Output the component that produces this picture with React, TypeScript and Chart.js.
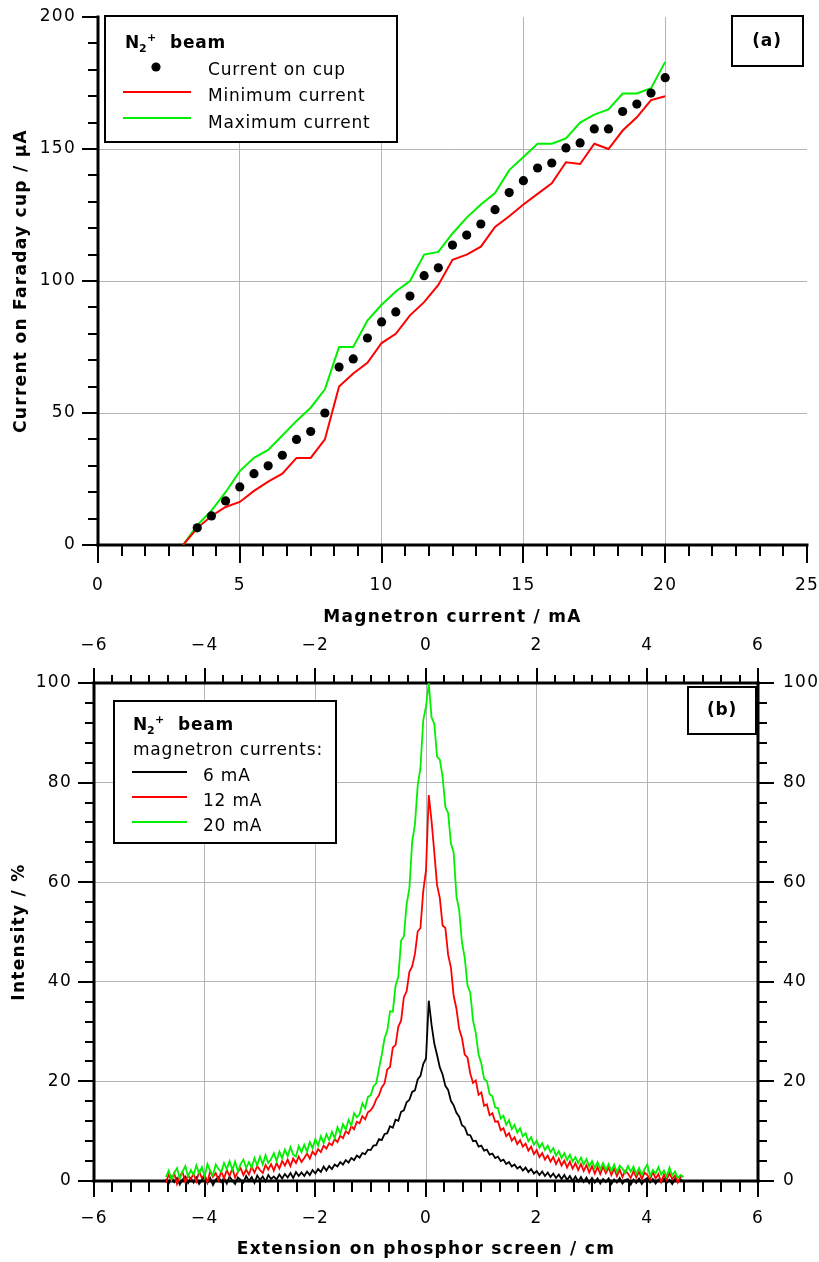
import React, { useEffect, useRef } from 'react';
import { Chart, registerables } from 'chart.js';

Chart.register(...registerables);

const FONT = 'DejaVu Sans';
const GRID = '#b4b4b4';
const RED = '#ff0000';
const GREEN = '#00f000';

// ---------- Panel (a): Faraday cup current vs magnetron current ----------
const CUP_X = [3.5, 4, 4.5, 5, 5.5, 6, 6.5, 7, 7.5, 8, 8.5, 9, 9.5, 10, 10.5, 11, 11.5, 12, 12.5, 13, 13.5, 14, 14.5, 15, 15.5, 16, 16.5, 17, 17.5, 18, 18.5, 19, 19.5, 20];
const CUP_CURRENT = [6.5, 11, 16.7, 22, 27, 30, 34, 40, 43, 50, 67.4, 70.5, 78.4, 84.5, 88.3, 94.3, 102, 105, 113.6, 117.4, 121.6, 127, 133.5, 138, 142.8, 144.7, 150.4, 152.3, 157.6, 157.6, 164.2, 167, 171.2, 177];
const RANGE_X = [3, 3.5, 4, 4.5, 5, 5.5, 6, 6.5, 7, 7.5, 8, 8.5, 9, 9.5, 10, 10.5, 11, 11.5, 12, 12.5, 13, 13.5, 14, 14.5, 15, 15.5, 16, 16.5, 17, 17.5, 18, 18.5, 19, 19.5, 20];
const MIN_CURRENT = [0, 6.4, 11, 14.4, 16.3, 20.5, 24, 27, 33, 33, 40, 60, 65, 69, 76.5, 80, 87, 92, 98.5, 108, 110, 113, 120.5, 124.5, 129, 133, 137, 145, 144.3, 152, 150, 157, 162, 168.5, 170];
const MAX_CURRENT = [0, 7.5, 13, 20, 28, 33, 36, 41.5, 47, 52, 59, 75, 75, 85, 91, 96, 100, 110, 111, 118, 124, 129, 133.3, 142, 147, 152, 152, 154, 160, 163, 165, 171, 171, 173, 183];
const LABELS_A = ['Current on cup', 'Minimum current', 'Maximum current'];

// ---------- Panel (b): beam profiles on phosphor screen ----------
const SCREEN_X = [
  -4.70, -4.65, -4.60, -4.55, -4.50, -4.45, -4.40, -4.35, -4.30, -4.25,
  -4.20, -4.15, -4.10, -4.05, -4.00, -3.95, -3.90, -3.85, -3.80, -3.75,
  -3.70, -3.65, -3.60, -3.55, -3.50, -3.45, -3.40, -3.35, -3.30, -3.25,
  -3.20, -3.15, -3.10, -3.05, -3.00, -2.95, -2.90, -2.85, -2.80, -2.75,
  -2.70, -2.65, -2.60, -2.55, -2.50, -2.45, -2.40, -2.35, -2.30, -2.25,
  -2.20, -2.15, -2.10, -2.05, -2.00, -1.95, -1.90, -1.85, -1.80, -1.75,
  -1.70, -1.65, -1.60, -1.55, -1.50, -1.45, -1.40, -1.35, -1.30, -1.25,
  -1.20, -1.15, -1.10, -1.05, -1.00, -0.95, -0.90, -0.85, -0.80, -0.75,
  -0.70, -0.65, -0.60, -0.55, -0.50, -0.45, -0.40, -0.35, -0.30, -0.25,
  -0.20, -0.15, -0.10, -0.05, 0.00, 0.05, 0.10, 0.15, 0.20, 0.25,
  0.30, 0.35, 0.40, 0.45, 0.50, 0.55, 0.60, 0.65, 0.70, 0.75,
  0.80, 0.85, 0.90, 0.95, 1.00, 1.05, 1.10, 1.15, 1.20, 1.25,
  1.30, 1.35, 1.40, 1.45, 1.50, 1.55, 1.60, 1.65, 1.70, 1.75,
  1.80, 1.85, 1.90, 1.95, 2.00, 2.05, 2.10, 2.15, 2.20, 2.25,
  2.30, 2.35, 2.40, 2.45, 2.50, 2.55, 2.60, 2.65, 2.70, 2.75,
  2.80, 2.85, 2.90, 2.95, 3.00, 3.05, 3.10, 3.15, 3.20, 3.25,
  3.30, 3.35, 3.40, 3.45, 3.50, 3.55, 3.60, 3.65, 3.70, 3.75,
  3.80, 3.85, 3.90, 3.95, 4.00, 4.05, 4.10, 4.15, 4.20, 4.25,
  4.30, 4.35, 4.40, 4.45, 4.50, 4.55, 4.60, 4.65,
];
const INT_6MA = [
  0.4, -0.5, 0.8, -0.2, 0.6, -0.7, 0.3, 0.9, -0.4, 0.5,
  -0.3, 0.7, -0.6, 0.2, 0.9, -0.4, 0.6, -0.8, 0.3, 0.8,
  -0.2, 0.6, -0.5, 0.9, 0.1, -0.6, 0.7, 0.2, -0.3, 1.0,
  0.0, 0.8, -0.4, 1.1, 0.2, 0.9, -0.1, 1.2, 0.4, 0.9,
  0.3, 1.3, 0.5, 1.4, 0.7, 1.6, 0.6, 1.8, 1.0, 1.7,
  1.0, 1.9, 1.2, 2.2, 1.5, 2.4, 1.8, 2.9, 2.1, 3.0,
  2.4, 3.3, 2.9, 3.8, 3.3, 4.2, 3.7, 4.6, 4.2, 5.1,
  4.7, 5.6, 5.4, 6.3, 6.2, 7.1, 7.2, 8.4, 8.2, 9.4,
  9.6, 11.0, 10.7, 12.3, 12.1, 13.9, 14.2, 15.8, 16.3, 17.9,
  18.2, 20.4, 21.1, 23.5, 24.6, 36.2, 31.4, 27.6, 25.3, 22.8,
  21.4, 19.1, 18.3, 16.1, 15.2, 13.7, 12.9, 11.2, 10.8, 9.3,
  9.2, 8.0, 8.1, 6.9, 7.1, 6.1, 6.3, 5.3, 5.5, 4.6,
  4.9, 4.0, 4.3, 3.4, 3.8, 2.9, 3.3, 2.5, 2.9, 2.1,
  2.7, 1.8, 2.4, 1.5, 2.0, 1.2, 1.9, 1.0, 1.7, 0.8,
  1.5, 0.6, 1.3, 0.4, 1.2, 0.2, 1.0, 0.0, 0.9, -0.1,
  0.8, -0.2, 0.7, -0.4, 0.6, -0.3, 0.5, -0.5, 0.4, -0.2,
  0.5, -0.6, 0.3, -0.3, 0.6, -0.5, 0.2, 0.4, -0.7, 0.3,
  -0.4, 0.5, -0.6, 0.2, 0.6, -0.3, 0.4, -0.5, 0.3, -0.2,
  0.5, -0.4, 0.2, -0.6, 0.4, -0.2, 0.3, -0.1,
];
const INT_12MA = [
  -0.4, 1.3, 0.2, 1.6, -0.6, 0.9, 1.8, -0.2, 1.1, 0.4,
  1.5, -0.1, 1.9, 0.6, 1.3, -0.3, 2.0, 0.8, 1.6, 0.2,
  1.9, 0.5, 2.2, 1.0, 2.5, 0.7, 1.8, 2.6, 1.2, 2.3,
  1.3, 2.9, 1.7, 3.0, 2.2, 1.6, 3.2, 2.3, 3.4, 2.1,
  3.6, 2.5, 4.0, 3.1, 4.3, 3.0, 4.5, 3.6, 4.9, 3.8,
  4.6, 5.5, 4.5, 5.9, 5.2, 6.4, 5.8, 7.1, 6.5, 7.6,
  7.2, 8.4, 7.8, 9.1, 8.6, 10.0, 9.5, 11.0, 10.4, 11.9,
  11.6, 13.0, 12.4, 13.8, 14.2, 15.0, 16.4, 17.2, 18.8, 19.6,
  22.4, 22.9, 26.8, 27.3, 31.0, 32.2, 36.9, 38.1, 42.0, 43.1,
  45.6, 50.1, 50.8, 58.2, 62.4, 77.5, 72.3, 66.0, 59.4, 56.8,
  51.3, 50.8, 45.4, 42.9, 37.2, 34.6, 30.5, 28.7, 25.4, 24.8,
  21.6, 19.7, 20.2, 17.3, 17.8, 15.1, 15.4, 13.2, 13.6, 11.9,
  12.0, 10.2, 10.6, 9.0, 9.6, 8.1, 8.8, 7.4, 8.2, 6.9,
  7.5, 6.1, 6.9, 5.4, 6.2, 4.8, 5.6, 4.3, 5.1, 3.9,
  4.8, 3.4, 4.5, 3.1, 4.1, 2.7, 3.9, 2.5, 3.6, 2.2,
  3.4, 2.0, 3.2, 1.7, 3.0, 1.5, 2.8, 1.4, 2.9, 1.6,
  2.7, 1.2, 2.5, 1.0, 2.3, 0.8, 2.1, 1.5, 0.6, 2.0,
  0.7, 1.9, 0.4, 1.7, 1.2, 0.3, 1.8, 0.5, 1.4, -0.2,
  1.3, 0.2, 1.6, 0.4, 1.1, -0.3, 0.8, 1.0,
];
const INT_20MA = [
  0.8, 2.1, 0.3, 1.6, 2.6, 0.5, 1.9, 3.0, 0.9, 2.2,
  1.2, 3.1, 1.5, 2.8, 0.9, 3.4, 2.0, 1.1, 3.3, 2.4,
  1.8, 3.6, 2.4, 4.0, 2.2, 3.9, 1.9, 3.4, 4.3, 2.6,
  3.8, 2.7, 4.6, 3.1, 4.9, 3.3, 5.2, 3.6, 4.4, 5.6,
  4.0, 5.9, 4.6, 6.3, 5.0, 6.8, 5.3, 4.9, 7.0, 5.8,
  7.3, 5.9, 7.8, 6.6, 8.4, 7.1, 9.0, 7.6, 9.4, 8.2,
  9.9, 8.6, 10.8, 9.5, 11.4, 10.3, 12.3, 11.1, 13.6, 12.8,
  13.4, 15.6, 14.6, 16.9, 17.2, 19.0, 19.6, 22.5, 25.3, 28.6,
  30.2, 34.1, 34.0, 39.2, 41.0, 48.3, 49.1, 55.6, 58.8, 68.1,
  71.6, 79.4, 83.0, 92.5, 95.3, 100.0, 93.1, 91.8, 85.2, 84.6,
  81.2, 75.1, 73.9, 67.8, 65.9, 57.2, 54.3, 47.9, 44.8, 39.3,
  37.8, 32.2, 29.7, 25.4, 23.6, 20.5, 20.1, 17.4, 17.0, 14.8,
  14.6, 12.5, 13.1, 11.3, 12.2, 10.4, 11.3, 9.7, 10.6, 9.0,
  9.6, 8.0, 8.8, 7.3, 8.1, 6.7, 7.6, 6.2, 7.1, 5.8,
  6.6, 5.1, 6.0, 4.6, 5.6, 4.2, 5.3, 3.9, 4.8, 3.6,
  4.7, 3.3, 4.4, 2.9, 4.0, 2.6, 3.8, 2.4, 3.6, 2.2,
  3.4, 2.0, 3.3, 1.8, 3.1, 2.5, 1.6, 3.0, 1.9, 2.9,
  1.4, 2.6, 1.2, 2.4, 3.3, 1.0, 2.2, 1.5, 2.8, 1.3,
  2.1, 0.9, 2.7, 1.1, 1.9, 0.6, 1.2, 0.8,
];
const LABELS_B = ['6 mA', '12 mA', '20 mA'];

const fmt = (v: any) => (Number(v) < 0 ? '\u2212' + Math.abs(Number(v)) : String(v));

const spacingPlugin = {
  id: 'spacing',
  beforeDraw(chart: any) {
    chart.ctx.letterSpacing = '1.3px';
  },
};

type AxisSpec = { id: string; side: string; from: number; to: number; major: number; div: number; majorLen: number; minorLen: number };

function axesPlugin(specs: AxisSpec[]) {
  return {
    id: 'frameAxes',
    beforeDatasetsDraw(chart: any) {
      const ctx = chart.ctx;
      const ca = chart.chartArea;
      ctx.save();
      ctx.strokeStyle = '#000';
      ctx.lineCap = 'butt';
      for (const s of specs) {
        const scale = chart.scales[s.id];
        ctx.lineWidth = 3;
        ctx.beginPath();
        if (s.side === 'bottom') { ctx.moveTo(ca.left - 1.5, ca.bottom); ctx.lineTo(ca.right + 1.5, ca.bottom); }
        if (s.side === 'top') { ctx.moveTo(ca.left - 1.5, ca.top); ctx.lineTo(ca.right + 1.5, ca.top); }
        if (s.side === 'left') { ctx.moveTo(ca.left, ca.top - 1.5); ctx.lineTo(ca.left, ca.bottom + 1.5); }
        if (s.side === 'right') { ctx.moveTo(ca.right, ca.top - 1.5); ctx.lineTo(ca.right, ca.bottom + 1.5); }
        ctx.stroke();
        ctx.lineWidth = 2;
        ctx.beginPath();
        const step = s.major / s.div;
        const n = Math.round((s.to - s.from) / step);
        for (let k = 0; k <= n; k++) {
          const v = s.from + k * step;
          const len = k % s.div === 0 ? s.majorLen : s.minorLen;
          const p = Math.round(scale.getPixelForValue(v));
          if (s.side === 'bottom') { ctx.moveTo(p, ca.bottom); ctx.lineTo(p, ca.bottom + len); }
          if (s.side === 'top') { ctx.moveTo(p, ca.top); ctx.lineTo(p, ca.top - len); }
          if (s.side === 'left') { ctx.moveTo(ca.left, p); ctx.lineTo(ca.left - len, p); }
          if (s.side === 'right') { ctx.moveTo(ca.right, p); ctx.lineTo(ca.right + len, p); }
        }
        ctx.stroke();
      }
      ctx.restore();
    },
  };
}

function text(ctx: any, str: string, x: number, y: number, size: number, bold: boolean, align = 'left', baseline = 'alphabetic') {
  ctx.font = `${bold ? 'bold ' : ''}${size}px "${FONT}"`;
  ctx.letterSpacing = '0.8px';
  ctx.textAlign = align;
  ctx.textBaseline = baseline;
  ctx.fillStyle = '#000';
  ctx.fillText(str, x, y);
}

function box(ctx: any, x0: number, y0: number, x1: number, y1: number) {
  ctx.fillStyle = '#fff';
  ctx.fillRect(x0, y0, x1 - x0, y1 - y0);
  ctx.strokeStyle = '#000';
  ctx.lineWidth = 2;
  ctx.strokeRect(x0, y0, x1 - x0, y1 - y0);
}

function beamTitle(ctx: any, x: number, y: number) {
  text(ctx, 'N', x, y, 17, true);
  ctx.font = `bold 17px "${FONT}"`;
  const w = ctx.measureText('N').width;
  text(ctx, '2', x + w - 1, y + 4, 11, true);
  text(ctx, '+', x + w + 7, y - 7, 11, true);
  text(ctx, 'beam', x + 45, y, 17, true);
}

const legendA = {
  id: 'legendA',
  afterDraw(chart: any) {
    const ctx = chart.ctx;
    const ds = chart.data.datasets;
    ctx.save();
    box(ctx, 105, 16, 397, 142);
    beamTitle(ctx, 125, 48);
    ctx.fillStyle = ds[0].pointBackgroundColor;
    ctx.beginPath();
    ctx.arc(156, 67, 4.6, 0, Math.PI * 2);
    ctx.fill();
    text(ctx, ds[0].label, 208, 75, 17, false);
    ctx.lineWidth = 2;
    ctx.strokeStyle = ds[1].borderColor;
    ctx.beginPath(); ctx.moveTo(123, 92); ctx.lineTo(191, 92); ctx.stroke();
    text(ctx, ds[1].label, 208, 101, 17, false);
    ctx.strokeStyle = ds[2].borderColor;
    ctx.beginPath(); ctx.moveTo(123, 118); ctx.lineTo(191, 118); ctx.stroke();
    text(ctx, ds[2].label, 208, 128, 17, false);
    box(ctx, 732, 16, 803, 66);
    text(ctx, '(a)', 767, 42, 17, true, 'center', 'middle');
    ctx.restore();
  },
};

const legendB = {
  id: 'legendB',
  afterDraw(chart: any) {
    const ctx = chart.ctx;
    const ds = chart.data.datasets;
    ctx.save();
    box(ctx, 114, 71, 336, 213);
    beamTitle(ctx, 133, 100);
    text(ctx, 'magnetron currents:', 133, 125, 17, false);
    const rows = [142, 167, 192];
    ds.forEach((d: any, i: number) => {
      ctx.strokeStyle = d.borderColor;
      ctx.lineWidth = 2;
      ctx.beginPath(); ctx.moveTo(132, rows[i]); ctx.lineTo(187, rows[i]); ctx.stroke();
      text(ctx, d.label, 203, rows[i] + 9, 17, false);
    });
    box(ctx, 688, 57, 756, 104);
    text(ctx, '(b)', 722, 81, 17, true, 'center', 'middle');
    ctx.restore();
  },
};

const tickFont = { family: FONT, size: 17 };
const titleFont = { family: FONT, size: 17, weight: 'bold' as const };
const hideAt = (vals: number[]) => (c: any) => (c.tick && vals.includes(c.tick.value) ? 'rgba(0,0,0,0)' : GRID);
const noPad = (s: any) => { s.paddingLeft = 0; s.paddingRight = 0; s.paddingTop = 0; s.paddingBottom = 0; };

function configA(): any {
  return {
    type: 'line',
    data: {
      datasets: [
        { label: LABELS_A[0], data: CUP_X.map((x, i) => ({ x, y: CUP_CURRENT[i] })), showLine: false, pointRadius: 4.6, pointBorderWidth: 0, pointBackgroundColor: '#000', borderColor: '#000', backgroundColor: '#000', order: 0 },
        { label: LABELS_A[1], data: RANGE_X.map((x, i) => ({ x, y: MIN_CURRENT[i] })), borderColor: RED, borderWidth: 2, pointRadius: 0, order: 1 },
        { label: LABELS_A[2], data: RANGE_X.map((x, i) => ({ x, y: MAX_CURRENT[i] })), borderColor: GREEN, borderWidth: 2, pointRadius: 0, order: 2 },
      ],
    },
    options: {
      responsive: false,
      animation: false,
      devicePixelRatio: 1,
      layout: { padding: { left: 0, top: 17, right: 12, bottom: 0 } },
      plugins: { legend: { display: false }, tooltip: { enabled: false } },
      elements: { line: { tension: 0 } },
      scales: {
        x: {
          type: 'linear', position: 'bottom', min: 0, max: 25,
          afterFit: (s: any) => { s.height = 85; noPad(s); },
          ticks: { stepSize: 5, padding: 30, font: tickFont, color: '#000', maxRotation: 0, autoSkip: false, callback: fmt },
          grid: { color: hideAt([0, 25]), lineWidth: 1, drawTicks: false },
          border: { display: false },
          title: { display: true, text: 'Magnetron current / mA', font: titleFont, color: '#000', padding: { top: 0, bottom: 2 } },
        },
        y: {
          type: 'linear', position: 'left', min: 0, max: 200,
          afterFit: (s: any) => { s.width = 98; noPad(s); },
          ticks: { stepSize: 50, padding: 22, font: tickFont, color: '#000', callback: fmt },
          grid: { color: hideAt([0, 200]), lineWidth: 1, drawTicks: false },
          border: { display: false },
          title: { display: true, text: 'Current on Faraday cup / \u03bcA', font: titleFont, color: '#000', padding: { top: 11, bottom: 0 } },
        },
      },
    },
    plugins: [
      spacingPlugin,
      axesPlugin([
        { id: 'x', side: 'bottom', from: 0, to: 25, major: 5, div: 6, majorLen: 18, minorLen: 11 },
        { id: 'y', side: 'left', from: 0, to: 200, major: 50, div: 5, majorLen: 16, minorLen: 10 },
      ]),
      legendA,
    ],
  };
}

function configB(): any {
  const mk = (ys: number[]) => SCREEN_X.map((x, i) => ({ x, y: ys[i] }));
  return {
    type: 'line',
    data: {
      datasets: [
        { label: LABELS_B[0], data: mk(INT_6MA), borderColor: '#000', borderWidth: 1.8, pointRadius: 0, order: 2, clip: false },
        { label: LABELS_B[1], data: mk(INT_12MA), borderColor: RED, borderWidth: 1.8, pointRadius: 0, order: 1, clip: false },
        { label: LABELS_B[2], data: mk(INT_20MA), borderColor: GREEN, borderWidth: 1.8, pointRadius: 0, order: 0, clip: false },
      ],
    },
    options: {
      responsive: false,
      animation: false,
      devicePixelRatio: 1,
      layout: { padding: 0 },
      plugins: { legend: { display: false }, tooltip: { enabled: false } },
      elements: { line: { tension: 0 } },
      scales: {
        x: {
          type: 'linear', position: 'bottom', min: -6, max: 6,
          afterFit: (s: any) => { s.height = 81; noPad(s); },
          ticks: { stepSize: 2, padding: 27, font: tickFont, color: '#000', maxRotation: 0, autoSkip: false, callback: fmt },
          grid: { color: hideAt([-6, 6]), lineWidth: 1, drawTicks: false },
          border: { display: false },
          title: { display: true, text: 'Extension on phosphor screen / cm', font: titleFont, color: '#000', padding: { top: 0, bottom: 2 } },
        },
        xTop: {
          type: 'linear', position: 'top', min: -6, max: 6,
          afterFit: (s: any) => { s.height = 53; noPad(s); },
          ticks: { stepSize: 2, padding: 27, font: tickFont, color: '#000', maxRotation: 0, autoSkip: false, callback: fmt },
          grid: { display: false, drawTicks: false },
          border: { display: false },
        },
        y: {
          type: 'linear', position: 'left', min: 0, max: 100,
          afterFit: (s: any) => { s.width = 94; noPad(s); },
          ticks: { stepSize: 20, padding: 22, font: tickFont, color: '#000', callback: fmt },
          grid: { color: hideAt([0, 100]), lineWidth: 1, drawTicks: false },
          border: { display: false },
          title: { display: true, text: 'Intensity / %', font: titleFont, color: '#000', padding: { top: 9, bottom: 0 } },
        },
        yRight: {
          type: 'linear', position: 'right', min: 0, max: 100,
          afterFit: (s: any) => { s.width = 61; noPad(s); },
          ticks: { stepSize: 20, padding: 25, font: tickFont, color: '#000', callback: fmt },
          grid: { display: false, drawTicks: false },
          border: { display: false },
        },
      },
    },
    plugins: [
      spacingPlugin,
      axesPlugin([
        { id: 'x', side: 'bottom', from: -6, to: 6, major: 2, div: 6, majorLen: 16, minorLen: 11 },
        { id: 'xTop', side: 'top', from: -6, to: 6, major: 2, div: 6, majorLen: 15, minorLen: 8 },
        { id: 'y', side: 'left', from: 0, to: 100, major: 20, div: 5, majorLen: 16, minorLen: 9 },
        { id: 'yRight', side: 'right', from: 0, to: 100, major: 20, div: 5, majorLen: 16, minorLen: 9 },
      ]),
      legendB,
    ],
  };
}

export default function App() {
  const refA = useRef<HTMLCanvasElement>(null);
  const refB = useRef<HTMLCanvasElement>(null);
  useEffect(() => {
    const a = new Chart(refA.current as HTMLCanvasElement, configA());
    const b = new Chart(refB.current as HTMLCanvasElement, configB());
    return () => {
      a.destroy();
      b.destroy();
    };
  }, []);
  return (
    <div style={{ position: 'absolute', left: 0, top: 0, width: 819, height: 1262, background: '#fff' }}>
      <canvas ref={refA} width={819} height={630} style={{ position: 'absolute', left: 0, top: 0, width: 819, height: 630 }} />
      <canvas ref={refB} width={819} height={632} style={{ position: 'absolute', left: 0, top: 630, width: 819, height: 632 }} />
    </div>
  );
}
